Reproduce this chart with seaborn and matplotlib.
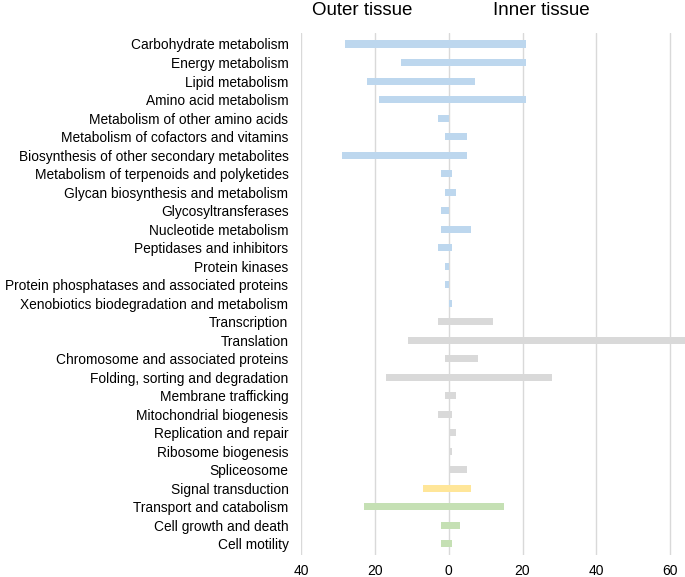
import matplotlib.pyplot as plt
import matplotlib.ticker as mticker
import seaborn as sns
import pandas as pd

categories = [
    "Carbohydrate metabolism", "Energy metabolism", "Lipid metabolism",
    "Amino acid metabolism", "Metabolism of other amino acids",
    "Metabolism of cofactors and vitamins",
    "Biosynthesis of other secondary metabolites",
    "Metabolism of terpenoids and polyketides",
    "Glycan biosynthesis and metabolism", "Glycosyltransferases",
    "Nucleotide metabolism", "Peptidases and inhibitors", "Protein kinases",
    "Protein phosphatases and associated proteins",
    "Xenobiotics biodegradation and metabolism", "Transcription", "Translation",
    "Chromosome and associated proteins", "Folding, sorting and degradation",
    "Membrane trafficking", "Mitochondrial biogenesis", "Replication and repair",
    "Ribosome biogenesis", "Spliceosome", "Signal transduction",
    "Transport and catabolism", "Cell growth and death", "Cell motility",
]
outer = [28, 13, 22, 19, 3, 1, 29, 2, 1, 2, 2, 3, 1, 1, 0, 3, 11, 1, 17, 1, 3, 0, 0, 0, 7, 23, 2, 2]
inner = [21, 21, 7, 21, 0, 5, 5, 1, 2, 0, 6, 1, 0, 0, 1, 12, 66, 8, 28, 2, 1, 2, 1, 5, 6, 15, 3, 1]
groups = ["Metabolism"] * 15 + ["Genetic"] * 9 + ["Environmental"] + ["Cellular"] * 3

group_colors = {"Metabolism": "#BDD7EE", "Genetic": "#D9D9D9",
                "Environmental": "#FFE699", "Cellular": "#C5E0B4"}

df = pd.DataFrame({"category": categories, "outer": outer, "inner": inner, "group": groups})
df["outer_neg"] = -df["outer"]
palette = {c: group_colors[g] for c, g in zip(categories, groups)}

sns.set_style("white")
plt.rcParams["font.family"] = ["Liberation Sans", "DejaVu Sans"]

fig = plt.figure(figsize=(6.85, 5.77), dpi=100)
ax = fig.add_axes([0.4394, 0.038, 0.5606, 0.905])

for col in ["outer_neg", "inner"]:
    sns.barplot(data=df, x=col, y="category", hue="category", palette=palette,
                orient="h", width=0.38, legend=False, ax=ax, zorder=3,
                edgecolor="none", saturation=1)

ax.set_xlim(-40, 64)
ax.set_ylim(27.6, -0.6)
ax.set_xticks([-40, -20, 0, 20, 40, 60])
ax.xaxis.set_major_formatter(mticker.FuncFormatter(lambda v, p: f"{abs(int(v))}"))
ax.grid(axis="x", color="#D9D9D9", linewidth=1, zorder=0)
ax.set_axisbelow(True)
for s in ax.spines.values():
    s.set_visible(False)
ax.tick_params(axis="both", length=0, colors="black")
ax.tick_params(axis="y", pad=9, labelsize=9.95)
ax.tick_params(axis="x", pad=6.5, labelsize=10)
ax.set_xlabel("")
ax.set_ylabel("")

fig.text(362 / 685, 0.981, "Outer tissue", ha="center", va="center", fontsize=13.5, color="black")
fig.text(541 / 685, 0.981, "Inner tissue", ha="center", va="center", fontsize=13.5, color="black")

fig.savefig("out.png", dpi=100)
